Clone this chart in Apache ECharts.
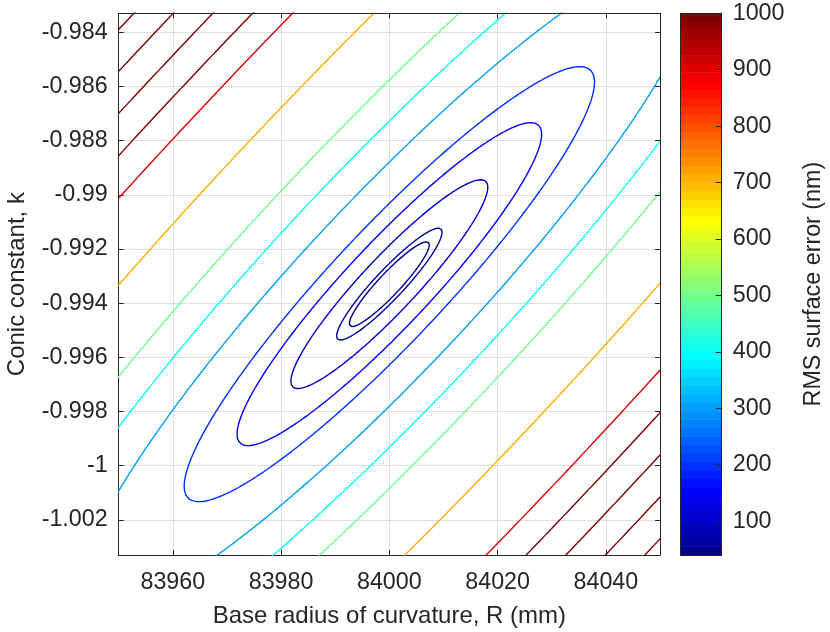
<!DOCTYPE html>
<html>
<head>
<meta charset="utf-8">
<script src="https://cdn.jsdelivr.net/npm/echarts@6/dist/echarts.min.js"></script>
<style>
html,body{margin:0;padding:0;background:#fff;}
#chart{width:830px;height:632px;}
</style>
</head>
<body>
<div id="chart"></div>
<script>
// ---- axis ranges and tick labels ----
const xRange = [83950, 84050];
const yRange = [-1.0033, -0.9833];
const xTicks = [83960, 83980, 84000, 84020, 84040];
const yTicks = [-0.984, -0.986, -0.988, -0.99, -0.992, -0.994, -0.996, -0.998, -1, -1.002];
const colorRange = [40, 1000];
const colorbarTicks = [100, 200, 300, 400, 500, 600, 700, 800, 900, 1000];

// ---- contour levels (nm) ----
const contourLevels = [50, 60, 100, 150, 200, 300, 400, 500, 700, 900, 1000, 1100, 1200, 1300];

// ---- RMS surface: rms^2 = min^2 + a*dR^2 + b*dR*dK + c*dK^2
// dR in mm from centre, dK in units of 1e-3 from centre
const surfaceCenter = [84000, -0.9933];
const surfaceMinRms = 32;
const surfaceQuad = [196.6, -1722.7, 4378.1];

const FONT = "'Liberation Sans', Arial, Helvetica, sans-serif";
const TXT = '#262626';

function jet64(i) {
  const u = k => (k < 1 ? 0 : k <= 16 ? k / 16 : k <= 31 ? 1 : k <= 47 ? (48 - k) / 16 : 0);
  const r = u(i - 24), g = u(i - 8), b = u(i + 8);
  return 'rgb(' + Math.round(r * 255) + ',' + Math.round(g * 255) + ',' + Math.round(b * 255) + ')';
}
function levelIndex(v) {
  const t = (v - colorRange[0]) / (colorRange[1] - colorRange[0]);
  return Math.min(64, Math.max(1, Math.floor(t * 64) + 1));
}

// contour of the quadratic surface at a given level (closed ellipse)
function contourLine(level) {
  const [A, B, C] = surfaceQuad;
  const h = B / 2;
  const tr2 = (A + C) / 2;
  const disc = Math.sqrt(((A - C) / 2) ** 2 + h * h);
  const l1 = tr2 + disc, l2 = tr2 - disc;
  const vec = l => { const x = h, y = l - A; const n = Math.hypot(x, y); return [x / n, y / n]; };
  const v1 = vec(l1), v2 = vec(l2);
  const g = Math.sqrt(level * level - surfaceMinRms * surfaceMinRms);
  const pts = [];
  const N = 1440;
  for (let i = 0; i <= N; i++) {
    const th = (i / N) * Math.PI * 2;
    const c1 = g * Math.cos(th) / Math.sqrt(l1), c2 = g * Math.sin(th) / Math.sqrt(l2);
    const dR = c1 * v1[0] + c2 * v2[0];
    const dK = c1 * v1[1] + c2 * v2[1];
    pts.push([surfaceCenter[0] + dR, surfaceCenter[1] + dK / 1000]);
  }
  return pts;
}

const fmtX = v => (xTicks.indexOf(Math.round(v)) >= 0 ? String(Math.round(v)) : '');
const fmtY = v => { const r = parseFloat(v.toFixed(3)); return yTicks.indexOf(r) >= 0 ? String(r) : ''; };
const fmtC = v => { const r = Math.round(v); return colorbarTicks.indexOf(r) >= 0 && Math.abs(v - r) < 1e-6 ? String(r) : ''; };

const series = contourLevels.map(L => ({
  type: 'line',
  xAxisIndex: 0, yAxisIndex: 0,
  data: contourLine(L),
  showSymbol: false, symbol: 'none',
  smooth: false, clip: true, silent: true,
  lineStyle: { color: jet64(levelIndex(L)), width: 1.4 },
  z: 2
}));

// colorbar bands
const nBands = 64;
const bandStep = (colorRange[1] - colorRange[0]) / nBands;
const bands = [];
for (let i = 0; i < nBands; i++) bands.push([colorRange[0] + i * bandStep, colorRange[0] + (i + 1) * bandStep, i + 1]);

series.push({
  type: 'custom',
  xAxisIndex: 2, yAxisIndex: 2,
  silent: true,
  data: bands,
  encode: { y: [0, 1] },
  renderItem: (params, api) => {
    const lo = api.value(0), hi = api.value(1), idx = api.value(2);
    const p1 = api.coord([0, hi]);
    const p2 = api.coord([1, lo]);
    return {
      type: 'rect',
      shape: { x: p1[0], y: p1[1] - 0.3, width: p2[0] - p1[0], height: p2[1] - p1[1] + 0.6 },
      style: { fill: jet64(idx) }
    };
  },
  z: 2
});

const lineStyle = { color: TXT, width: 1 };
const option = {
  animation: false,
  backgroundColor: '#fff',
  textStyle: { fontFamily: FONT },
  grid: [
    { left: 118.7, top: 13.3, width: 541.3, height: 541.7, containLabel: false, outerBoundsMode: 'none' },
    { left: 680.7, top: 13.2, width: 41, height: 541.8, containLabel: false, outerBoundsMode: 'none' }
  ],
  xAxis: [
    {
      gridIndex: 0, type: 'value', position: 'bottom', min: xRange[0], max: xRange[1], splitNumber: 5,
      axisLine: { show: true, onZero: false, lineStyle },
      axisTick: { show: true, inside: true, length: 5, lineStyle },
      axisLabel: { formatter: fmtX, fontSize: 23.3, color: TXT, margin: 16, fontFamily: FONT },
      splitLine: { show: true, lineStyle: { color: '#dfdfdf', width: 1 } },
      name: 'Base radius of curvature, R (mm)', nameLocation: 'middle', nameGap: 49,
      nameTextStyle: { fontSize: 24, color: TXT, fontFamily: FONT }
    },
    {
      gridIndex: 0, type: 'value', position: 'top', min: xRange[0], max: xRange[1], splitNumber: 5,
      axisLine: { show: true, onZero: false, lineStyle },
      axisTick: { show: true, inside: true, length: 5, lineStyle },
      axisLabel: { show: false }, splitLine: { show: false }, z: 5
    },
    {
      gridIndex: 1, type: 'value', position: 'bottom', min: 0, max: 1,
      axisLine: { show: true, onZero: false, lineStyle },
      axisTick: { show: false }, axisLabel: { show: false }, splitLine: { show: false }, z: 5
    },
    {
      gridIndex: 1, type: 'value', position: 'top', min: 0, max: 1,
      axisLine: { show: true, onZero: false, lineStyle },
      axisTick: { show: false }, axisLabel: { show: false }, splitLine: { show: false }, z: 5
    }
  ],
  yAxis: [
    {
      gridIndex: 0, type: 'value', position: 'left', min: yRange[0], max: yRange[1], splitNumber: 10,
      axisLine: { show: true, onZero: false, lineStyle },
      axisTick: { show: true, inside: true, length: 5, lineStyle },
      axisLabel: { formatter: fmtY, fontSize: 23.3, color: TXT, margin: 11, fontFamily: FONT },
      splitLine: { show: true, lineStyle: { color: '#dfdfdf', width: 1 } },
      name: 'Conic constant, k', nameLocation: 'middle', nameGap: 89,
      nameTextStyle: { fontSize: 24, color: TXT, fontFamily: FONT }
    },
    {
      gridIndex: 0, type: 'value', position: 'right', min: yRange[0], max: yRange[1], splitNumber: 10,
      axisLine: { show: true, onZero: false, lineStyle },
      axisTick: { show: true, inside: true, length: 5, lineStyle },
      axisLabel: { show: false }, splitLine: { show: false }, z: 5
    },
    {
      gridIndex: 1, type: 'value', position: 'right', min: colorRange[0], max: colorRange[1], splitNumber: 10,
      axisLine: { show: true, onZero: false, lineStyle },
      axisTick: { show: true, inside: true, length: 6, lineStyle },
      axisLabel: { formatter: fmtC, fontSize: 23.3, color: TXT, margin: 11, fontFamily: FONT },
      splitLine: { show: false },
      name: 'RMS surface error (nm)', nameLocation: 'middle', nameGap: 80,
      nameTextStyle: { fontSize: 23.3, color: TXT, fontFamily: FONT },
      z: 5
    },
    {
      gridIndex: 1, type: 'value', position: 'left', min: colorRange[0], max: colorRange[1],
      axisLine: { show: true, onZero: false, lineStyle },
      axisTick: { show: false }, axisLabel: { show: false }, splitLine: { show: false }, z: 5
    }
  ],
  series
};

const chart = echarts.init(document.getElementById('chart'), null, { renderer: 'canvas' });
chart.setOption(option);
</script>
</body>
</html>
